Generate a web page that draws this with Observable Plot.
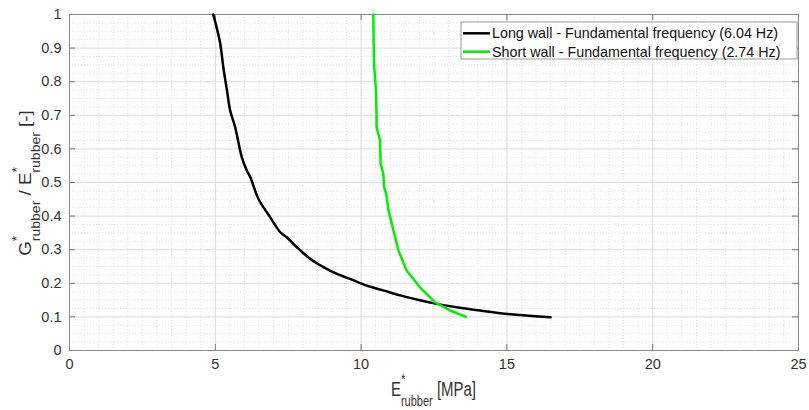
<!DOCTYPE html>
<html>
<head>
<meta charset="utf-8">
<script src="https://cdn.jsdelivr.net/npm/d3@7"></script>
<script src="https://cdn.jsdelivr.net/npm/@observablehq/plot@0.6"></script>
<style>
  html, body { margin: 0; padding: 0; background: #fff; }
  #chart { width: 809px; height: 410px; }
</style>
</head>
<body>
<div id="chart"></div>
<script>
// Long wall curve: E*rubber [MPa] vs G*/E* [-]
const longE = [4.93, 5.05, 5.17, 5.28, 5.40, 5.51, 5.68, 5.91, 6.08, 6.20, 6.48, 6.88, 7.23, 7.45, 7.80, 8.25, 8.71, 9.17, 9.62, 10.19, 10.76, 11.34, 11.90, 12.47, 13.27, 14.08, 15.22, 16.5];
const longR = [1.0, 0.96, 0.913, 0.84, 0.774, 0.714, 0.665, 0.575, 0.536, 0.516, 0.451, 0.397, 0.352, 0.337, 0.307, 0.273, 0.248, 0.228, 0.213, 0.193, 0.179, 0.164, 0.152, 0.141, 0.129, 0.119, 0.107, 0.099];
// Short wall curve
const shortE = [10.42, 10.43, 10.45, 10.51, 10.53, 10.53, 10.65, 10.67, 10.76, 10.79, 10.86, 10.94, 11.11, 11.28, 11.56, 12.02, 12.53, 13.05, 13.6];
const shortR = [1.0, 0.92, 0.843, 0.774, 0.70, 0.665, 0.625, 0.556, 0.526, 0.486, 0.466, 0.417, 0.357, 0.298, 0.238, 0.188, 0.144, 0.119, 0.1];

const seriesNames = ["Long wall - Fundamental frequency (6.04 Hz)", "Short wall - Fundamental frequency (2.74 Hz)"];
const seriesColors = ["#000000", "#00f000"];

const xTicks = [0, 5, 10, 15, 20, 25];
const yTicks = [0, 0.1, 0.2, 0.3, 0.4, 0.5, 0.6, 0.7, 0.8, 0.9, 1];
const xMinor = d3.range(0, 25.001, 0.5);
const yMinor = d3.range(0, 1.0001, 0.025);

const longData = longE.map((e, i) => ({e, r: longR[i]}));
const shortData = shortE.map((e, i) => ({e, r: shortR[i]}));

const W = 809, H = 410, mL = 69, mR = 11, mT = 14, mB = 60;
const plotW = W - mL - mR, plotH = H - mT - mB;
const tick = 6;

const chart = Plot.plot({
  width: W, height: H,
  marginLeft: mL, marginRight: mR, marginTop: mT, marginBottom: mB,
  style: {fontFamily: "'Liberation Sans', Arial, sans-serif", fontSize: "14.5px", color: "#333", background: "#fff"},
  x: {domain: [0, 25], label: null},
  y: {domain: [0, 1], label: null},
  marks: [
    Plot.ruleX(xMinor, {stroke: "#e4e4e4", strokeDasharray: "1,2"}),
    Plot.ruleY(yMinor, {stroke: "#e4e4e4", strokeDasharray: "1,2"}),
    Plot.ruleX(xTicks, {stroke: "#dedede"}),
    Plot.ruleY(yTicks, {stroke: "#dedede"}),
    Plot.axisX({ticks: xTicks, tickSize: 0, tickPadding: 8, tickFormat: d => String(d), fill: "#333"}),
    Plot.axisY({ticks: yTicks, tickSize: 0, tickPadding: 8, tickFormat: d => String(+d.toFixed(1)), fill: "#333"}),
    // inward ticks
    Plot.ruleX(xTicks, {stroke: "#777", insetTop: plotH - tick}),
    Plot.ruleX(xTicks, {stroke: "#777", insetBottom: plotH - tick}),
    Plot.ruleY(yTicks, {stroke: "#777", insetRight: plotW - tick}),
    Plot.ruleY(yTicks, {stroke: "#777", insetLeft: plotW - tick}),
    Plot.frame({stroke: "#888"}),
    Plot.line(longData, {x: "e", y: "r", stroke: seriesColors[0], strokeWidth: 2.5, curve: "catmull-rom"}),
    Plot.line(shortData, {x: "e", y: "r", stroke: seriesColors[1], strokeWidth: 2.5, curve: "linear"})
  ]
});
document.getElementById("chart").appendChild(chart);

const svg = d3.select(chart);
const font = "'Liberation Sans', Arial, sans-serif";

function addLabel(g, parts) {
  const t = g.append("text").attr("text-anchor", "middle").attr("fill", "#333").style("font-family", font);
  parts.forEach(p => {
    const s = t.append("tspan").text(p.t).style("font-size", p.fs + "px");
    if (p.dx) s.attr("dx", p.dx);
    if (p.dy) s.attr("dy", p.dy);
  });
  return t;
}

// X axis label: E*_rubber [MPa]
const gx = svg.append("g").attr("transform", `translate(${mL + plotW / 2},396) scale(1,1.3)`);
addLabel(gx, [
  {t: "E", fs: 15},
  {t: "*", fs: 11, dy: -9},
  {t: "rubber", fs: 11, dx: -4.3, dy: 17},
  {t: " [MPa]", fs: 15, dy: -8}
]);

// Y axis label: G*_rubber / E*_rubber [-]
const gy = svg.append("g").attr("transform", `translate(31,${mT + plotH / 2 + 1}) rotate(-90) scale(1.17,1)`);
addLabel(gy, [
  {t: "G", fs: 16},
  {t: "*", fs: 12, dy: -10},
  {t: "rubber", fs: 12, dx: -4.7, dy: 19},
  {t: " / E", fs: 16, dy: -9},
  {t: "*", fs: 12, dy: -10},
  {t: "rubber", fs: 12, dx: -4.7, dy: 19},
  {t: " [-]", fs: 16, dy: -9}
]);

// Legend
const lg = svg.append("g");
lg.append("rect").attr("x", 461).attr("y", 22).attr("width", 336).attr("height", 37)
  .attr("fill", "#fff").attr("stroke", "#9a9a9a").attr("stroke-width", 1);
seriesNames.forEach((name, i) => {
  const yy = 33.3 + i * 18.4;
  lg.append("line").attr("x1", 463).attr("x2", 490).attr("y1", yy).attr("y2", yy)
    .attr("stroke", seriesColors[i]).attr("stroke-width", 2.5);
  lg.append("text").attr("x", 492).attr("y", yy).attr("dy", "0.35em")
    .attr("text-anchor", "start")
    .attr("fill", "#111").style("font-family", font).style("font-size", "14.3px").text(name);
});
</script>
</body>
</html>
